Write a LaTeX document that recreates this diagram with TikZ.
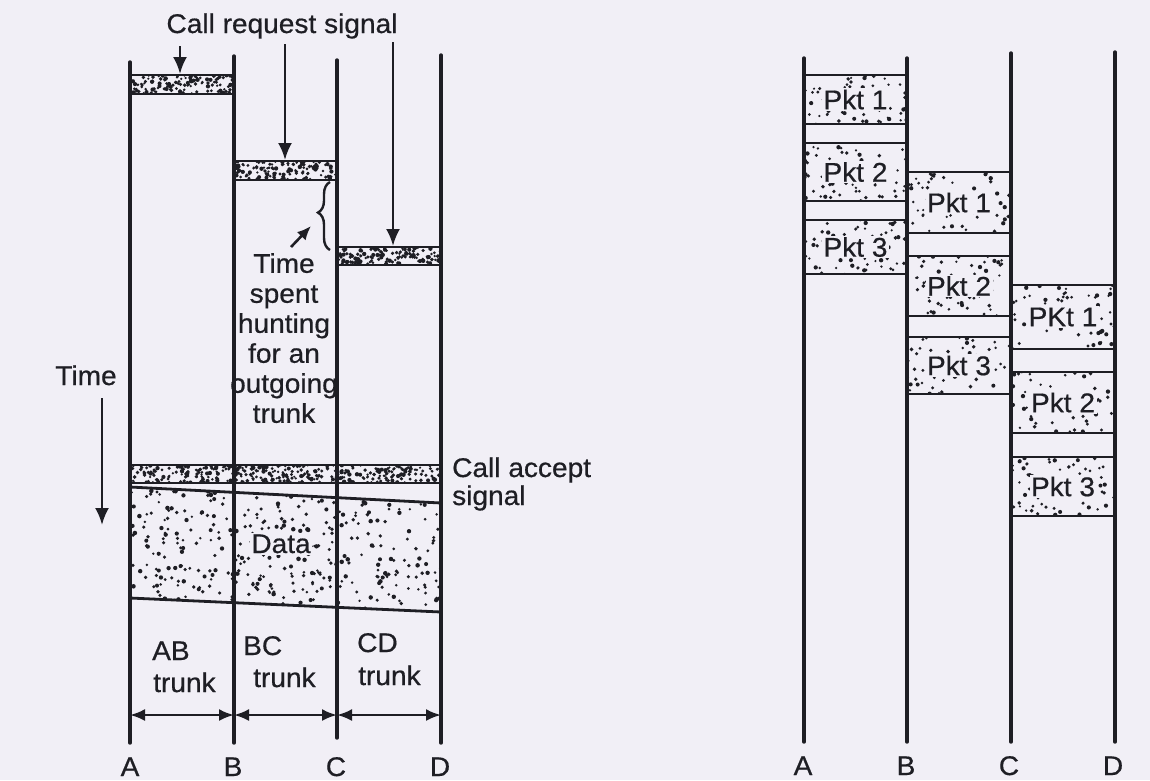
\documentclass[tikz,border=0pt]{standalone}
\usepackage{fontspec}
\setmainfont{Liberation Sans}[FakeBold=0.6,FakeStretch=1.04]
\usetikzlibrary{arrows.meta,decorations.pathreplacing}
\definecolor{bg}{RGB}{241,239,246}
\definecolor{ink}{RGB}{30,30,36}
% random stipple: x0, y0, w, h, count
\newcommand\mydots[5]{%
  \begin{scope}
    \clip (#1,#2) rectangle ++(#3,#4);
    \foreach \k in {1,...,#5}{%
      \fill[ink] ({#1+rnd*#3},{#2+rnd*#4}) circle ({1.2pt+rnd*1.0pt});
    }
  \end{scope}}
\begin{document}
\begin{tikzpicture}[x=1pt,y=-1pt,
  font=\fontsize{27}{30}\selectfont,
  vline/.style={line width=3.4pt,line cap=round,draw=ink},
  hline/.style={line width=2.8pt,draw=ink},
  sigarrow/.style={line width=2.6pt,draw=ink,-{Latex[length=17pt,width=14pt]}},
  spanarrow/.style={line width=2.4pt,draw=ink,{Latex[length=15pt,width=12pt]}-{Latex[length=15pt,width=12pt]}},
  lbl/.style={text=ink,inner sep=0pt},
  pkt/.style={text=ink,fill=bg,inner sep=1.5pt},
]
\pgfmathsetseed{12345}
\fill[bg] (0,0) rectangle (1150,780);
\useasboundingbox (0,0) rectangle (1150,780);

% ================= LEFT: circuit switching =================
\coordinate (At) at (130,62);  \coordinate (Ab) at (130,743);
\coordinate (Bt) at (234,56);  \coordinate (Bb) at (234,743);
\coordinate (Ct) at (337,60);  \coordinate (Cb) at (337,738);
\coordinate (Dt) at (441,55);  \coordinate (Db) at (441,743);

% call request boxes
\mydots{130}{75}{104}{19}{130}
\draw[hline] (130,75) -- (234,75) (130,94) -- (234,94);
\mydots{234}{161}{103}{19}{130}
\draw[hline] (234,161) -- (337,161) (234,180) -- (337,180);
\mydots{337}{247}{104}{18}{130}
\draw[hline] (337,247) -- (441,247) (337,265) -- (441,265);

% call accept box
\mydots{130}{465}{311}{18}{360}
\draw[hline] (130,465) -- (441,465) (130,483) -- (441,483);

% data region
\begin{scope}
  \clip (130,487) -- (441,503) -- (441,612) -- (130,598) -- cycle;
  \foreach \k in {1,...,400}{%
    \fill[ink] ({130+rnd*311},{487+rnd*125}) circle ({1.3pt+rnd*1.0pt});
  }
\end{scope}
\draw[hline] (130,487) -- (441,503);
\draw[hline] (130,598) -- (441,612);
\node[pkt,anchor=base] (data) at (281,553) {Data};

% vertical lines
\draw[vline] (At) -- (Ab);
\draw[vline] (Bt) -- (Bb);
\draw[vline] (Ct) -- (Cb);
\draw[vline] (Dt) -- (Db);

% call request signal
\node[lbl,anchor=base] (crs) at (282,33) {Call request signal};
\coordinate (r1s) at (180,46);  \coordinate (r1e) at (180,74);
\coordinate (r2s) at (285,44);  \coordinate (r2e) at (285,160);
\coordinate (r3s) at (393,42);  \coordinate (r3e) at (393,246);
\draw[sigarrow] (r1s) -- (r1e);
\draw[sigarrow] (r2s) -- (r2e);
\draw[sigarrow] (r3s) -- (r3e);

% time spent hunting
\coordinate (brB) at (330,250);
\coordinate (brT) at (330,182);
\draw[ink,line width=2.4pt,decorate,decoration={brace,amplitude=12pt,aspect=0.55}] (brB) -- (brT);
\node[lbl,align=center,anchor=north] (hunt) at (284,253)
  {Time\\spent\\hunting\\for an\\outgoing\\trunk};
\coordinate (hs) at (291,247);
\coordinate (he) at (311,226);
\draw[sigarrow,-{Latex[length=14pt,width=12pt]}] (hs) -- (he);

% time axis
\node[lbl,anchor=base] (tlab) at (86,385) {Time};
\coordinate (ts) at (102,398);
\coordinate (te) at (102,525);
\draw[sigarrow] (ts) -- (te);

% call accept signal
\node[lbl,anchor=base west] (ca1) at (452,477) {Call accept};
\node[lbl,anchor=base west] (ca2) at (452,505) {signal};

% trunks
\node[lbl,anchor=base west] (ab1) at (152,660) {AB};
\node[lbl,anchor=base west] (ab2) at (153,692) {trunk};
\node[lbl,anchor=base west] (bc1) at (243,655) {BC};
\node[lbl,anchor=base west] (bc2) at (253,687) {trunk};
\node[lbl,anchor=base west] (cd1) at (357,652) {CD};
\node[lbl,anchor=base west] (cd2) at (358,685) {trunk};
\coordinate (sA) at (130,715); \coordinate (sB) at (234,715);
\coordinate (sC) at (337,715); \coordinate (sD) at (441,715);
\draw[spanarrow] (sA) -- (sB);
\draw[spanarrow] (sB) -- (sC);
\draw[spanarrow] (sC) -- (sD);

% station labels
\node[lbl,anchor=base] (lA) at (130,776) {A};
\node[lbl,anchor=base] (lB) at (233,776) {B};
\node[lbl,anchor=base] (lC) at (336,776) {C};
\node[lbl,anchor=base] (lD) at (440,776) {D};

% ================= RIGHT: packet switching =================
\coordinate (PAt) at (804,58);   \coordinate (PAb) at (804,742);
\coordinate (PBt) at (907,58);   \coordinate (PBb) at (907,742);
\coordinate (PCt) at (1011,53);  \coordinate (PCb) at (1011,742);
\coordinate (PDt) at (1115,52);  \coordinate (PDb) at (1115,742);

% A-B packets
\mydots{804}{75}{103}{49}{60}
\draw[hline] (804,75) -- (907,75) (804,124) -- (907,124);
\node[pkt] (ab-p1) at (855.5,99.5) {Pkt 1};
\mydots{804}{143}{103}{58}{60}
\draw[hline] (804,143) -- (907,143) (804,201) -- (907,201);
\node[pkt] (ab-p2) at (855.5,172) {Pkt 2};
\mydots{804}{220}{103}{54}{60}
\draw[hline] (804,220) -- (907,220) (804,274) -- (907,274);
\node[pkt] (ab-p3) at (855.5,247) {Pkt 3};

% B-C packets
\mydots{907}{172}{104}{61}{60}
\draw[hline] (907,172) -- (1011,172) (907,233) -- (1011,233);
\node[pkt] (bc-p1) at (959,202.5) {Pkt 1};
\mydots{907}{256}{104}{60}{60}
\draw[hline] (907,256) -- (1011,256) (907,316) -- (1011,316);
\node[pkt] (bc-p2) at (959,286) {Pkt 2};
\mydots{907}{337}{104}{57}{60}
\draw[hline] (907,337) -- (1011,337) (907,394) -- (1011,394);
\node[pkt] (bc-p3) at (959,365.5) {Pkt 3};

% C-D packets
\mydots{1011}{285}{104}{64}{60}
\draw[hline] (1011,285) -- (1115,285) (1011,349) -- (1115,349);
\node[pkt] (cd-p1) at (1063,317) {PKt 1};
\mydots{1011}{372}{104}{61}{60}
\draw[hline] (1011,372) -- (1115,372) (1011,433) -- (1115,433);
\node[pkt] (cd-p2) at (1063,402.5) {Pkt 2};
\mydots{1011}{457}{104}{59}{60}
\draw[hline] (1011,457) -- (1115,457) (1011,516) -- (1115,516);
\node[pkt] (cd-p3) at (1063,486.5) {Pkt 3};

\draw[vline] (PAt) -- (PAb);
\draw[vline] (PBt) -- (PBb);
\draw[vline] (PCt) -- (PCb);
\draw[vline] (PDt) -- (PDb);

\node[lbl,anchor=base] (rA) at (803,775) {A};
\node[lbl,anchor=base] (rB) at (906,775) {B};
\node[lbl,anchor=base] (rC) at (1009,775) {C};
\node[lbl,anchor=base] (rD) at (1113,775) {D};
\end{tikzpicture}
\end{document}
